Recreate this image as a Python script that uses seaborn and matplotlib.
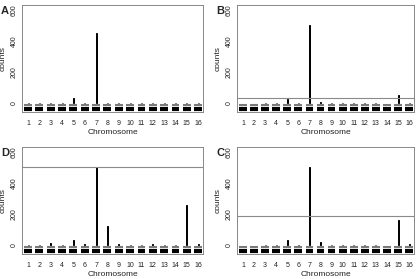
import numpy as np
import pandas as pd
import matplotlib
matplotlib.use("Agg")
import matplotlib.pyplot as plt
import seaborn as sns

# chromosome numbers
chroms = list(range(1, 17))

# peak counts per chromosome for each panel
counts_A = [0, 0, 0, 0, 30, 0, 450, 0, 0, 0, 0, 0, 0, 0, 0, 0]
counts_B = [0, 0, 0, 0, 28, 0, 500, 5, 0, 0, 0, 0, 0, 0, 52, 0]
counts_D = [0, 0, 10, 0, 34, 5, 500, 120, 3, 0, 0, 5, 0, 0, 256, 8]
counts_C = [0, 0, 2, 0, 34, 0, 500, 17, 0, 0, 0, 0, 0, 0, 160, 3]

# horizontal threshold line per panel (None = no line)
thresholds = {"A": None, "B": 30, "D": 500, "C": 185}

# levels of the two marker rows under each chromosome
gray_level = -16
black_level = -40

panels = {"A": counts_A, "B": counts_B, "D": counts_D, "C": counts_C}
positions = {
    "A": [0.052, 0.599, 0.432, 0.384],
    "B": [0.564, 0.599, 0.422, 0.384],
    "D": [0.052, 0.090, 0.432, 0.384],
    "C": [0.564, 0.090, 0.422, 0.384],
}

sns.set_style("white")
plt.rcParams["font.family"] = ["Liberation Sans", "DejaVu Sans"]

fig = plt.figure(figsize=(4.2, 2.79), dpi=100)

for name, vals in panels.items():
    ax = fig.add_axes(positions[name])
    df = pd.DataFrame({"Chromosome": chroms, "counts": vals})
    # thin spikes
    sns.barplot(data=df, x="Chromosome", y="counts", color="black",
                width=0.08, ax=ax, saturation=1, linewidth=0.7,
                edgecolor="black")
    # marker rows per chromosome (categorical positions 0..15)
    xs = np.arange(len(chroms))
    ax.hlines([gray_level] * len(xs), xs - 0.35, xs + 0.35,
              color="#7a7a7a", linewidth=1.5)
    ax.hlines([black_level] * len(xs), xs - 0.35, xs + 0.35,
              color="black", linewidth=3.0)
    if thresholds[name] is not None:
        ax.axhline(thresholds[name], color="#8a8a8a", linewidth=0.8)

    ax.set_xlim(-0.55, 15.45)
    ax.set_ylim(-58, 632)
    ax.set_yticks(range(0, 700, 100))
    ax.set_yticklabels(["0", "", "200", "", "400", "", "600"],
                       rotation=90, va="center")
    ax.tick_params(axis="both", labelsize=5, length=2, width=0.5,
                   color="#555555", pad=0.8, labelcolor="#222222")
    ax.tick_params(axis="x", pad=4)
    ax.set_xlabel("Chromosome", fontsize=6, labelpad=1.5, color="#222222")
    ax.set_ylabel("counts", fontsize=6, color="#222222")
    ax.yaxis.set_label_coords(-0.085, 0.5)
    for s in ax.spines.values():
        s.set_color("#888888")
        s.set_linewidth(0.7)
    ax.text(-0.115, 0.94, name, transform=ax.transAxes, fontsize=8,
            fontweight="bold", ha="left", va="center")

fig.savefig("out.png", dpi=100)
